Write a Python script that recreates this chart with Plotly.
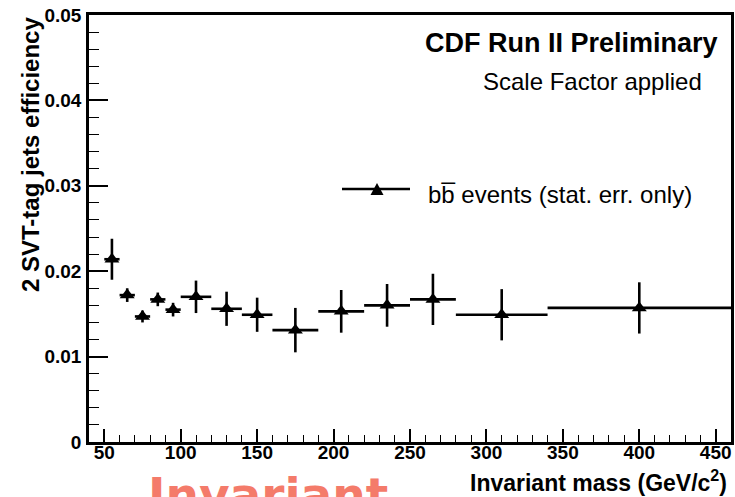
import plotly.graph_objects as go

# bb-bar sample: double SVT-tag efficiency in bins of invariant mass
bin_low = [50, 60, 70, 80, 90, 100, 120, 140, 160, 190, 220, 250, 280, 340]
bin_high = [60, 70, 80, 90, 100, 120, 140, 160, 190, 220, 250, 280, 340, 460]
efficiency = [0.0214, 0.0172, 0.0147, 0.0167, 0.0155, 0.0170, 0.0156, 0.0149,
              0.0131, 0.0153, 0.0160, 0.0167, 0.0149, 0.0157]
stat_err = [0.0024, 0.0008, 0.0007, 0.0008, 0.0008, 0.0019, 0.0020, 0.0020,
            0.0026, 0.0025, 0.0025, 0.0030, 0.0030, 0.0030]

x_ticks = [50, 100, 150, 200, 250, 300, 350, 400, 450]
y_ticks = [0, 0.01, 0.02, 0.03, 0.04, 0.05]
y_tick_text = ["0", "0.01", "0.02", "0.03", "0.04", "0.05"]

centers = [(lo + hi) / 2 for lo, hi in zip(bin_low, bin_high)]
half_widths = [(hi - lo) / 2 for lo, hi in zip(bin_low, bin_high)]

W, H = 735, 497
L, R, T, B = 89, 4, 15, 55
PW, PH = W - L - R, H - T - B


def xp(px):
    return (px - L) / PW


def yp(py):
    return (H - B - py) / PH


FONT = "Liberation Sans, Arial, Helvetica, sans-serif"

fig = go.Figure()
fig.add_trace(go.Scatter(
    x=centers, y=efficiency, mode="markers",
    marker=dict(symbol="triangle-up", size=13, color="black"),
    error_x=dict(type="data", array=half_widths, width=0, thickness=2.6, color="black"),
    error_y=dict(type="data", array=stat_err, width=0, thickness=2.6, color="black"),
    showlegend=False, cliponaxis=True,
))

fig.update_layout(
    width=W, height=H,
    margin=dict(l=L, r=R, t=T, b=B, pad=0, autoexpand=False),
    paper_bgcolor="white", plot_bgcolor="white",
    font=dict(family=FONT, color="black"),
    xaxis=dict(
        range=[40, 460], showgrid=False, zeroline=False,
        showline=True, linecolor="black", linewidth=2.5, mirror=True,
        ticks="inside", ticklen=13, tickwidth=1.6, tickcolor="black",
        tickvals=x_ticks, ticklabelstandoff=-9,
        tickfont=dict(family=FONT, size=19, weight="bold"),
        minor=dict(dtick=10, tick0=40, ticks="inside", ticklen=7, tickwidth=1.4, tickcolor="black"),
    ),
    yaxis=dict(
        range=[0, 0.05], showgrid=False, zeroline=False,
        showline=True, linecolor="black", linewidth=2.5, mirror=True,
        ticks="inside", ticklen=19, tickwidth=1.6, tickcolor="black",
        tickvals=y_ticks, ticktext=y_tick_text, ticklabelstandoff=1,
        tickfont=dict(family=FONT, size=19, weight="bold"),
        minor=dict(dtick=0.002, tick0=0, ticks="inside", ticklen=10, tickwidth=1.4, tickcolor="black"),
    ),
)

ann = []
# axis titles
ann.append(dict(text="2 SVT-tag jets efficiency", x=xp(30), y=yp(155), xref="paper", yref="paper",
                textangle=-90, showarrow=False, xanchor="center", yanchor="middle",
                font=dict(family=FONT, size=24, weight="bold")))
ann.append(dict(text="Invariant mass (GeV/c<sup>2</sup>)", x=xp(729), y=yp(481), xref="paper", yref="paper",
                showarrow=False, xanchor="right", yanchor="middle",
                font=dict(family=FONT, size=23, weight="bold")))
# header text
ann.append(dict(text="CDF Run II Preliminary", x=xp(720), y=yp(43), xref="paper", yref="paper",
                showarrow=False, xanchor="right", yanchor="middle",
                font=dict(family=FONT, size=27, weight="bold")))
ann.append(dict(text="Scale Factor applied", x=xp(704), y=yp(82), xref="paper", yref="paper",
                showarrow=False, xanchor="right", yanchor="middle",
                font=dict(family=FONT, size=24)))
# legend entry
ann.append(dict(text="bb\u0305 events (stat. err. only)", x=xp(426), y=yp(194), xref="paper", yref="paper",
                showarrow=False, xanchor="left", yanchor="middle",
                font=dict(family=FONT, size=24)))
# large salmon caption at the bottom edge
ann.append(dict(text="Invariant", x=xp(146), y=yp(465), xref="paper", yref="paper",
                showarrow=False, xanchor="left", yanchor="top",
                font=dict(family="DejaVu Sans", size=47, weight="bold", color="#f47b6a")))
fig.update_layout(annotations=ann)

# legend glyph: line with a triangle marker
fig.add_shape(type="line", xref="paper", yref="paper",
              x0=xp(342), x1=xp(410), y0=yp(189), y1=yp(189),
              line=dict(color="black", width=2.6))
tx, ty = 377, 190
fig.add_shape(type="path", xref="paper", yref="paper",
              path=f"M {xp(tx-6.5)} {yp(ty+5)} L {xp(tx+6.5)} {yp(ty+5)} L {xp(tx)} {yp(ty-7)} Z",
              fillcolor="black", line=dict(color="black", width=0))

fig.write_html("out.html")
